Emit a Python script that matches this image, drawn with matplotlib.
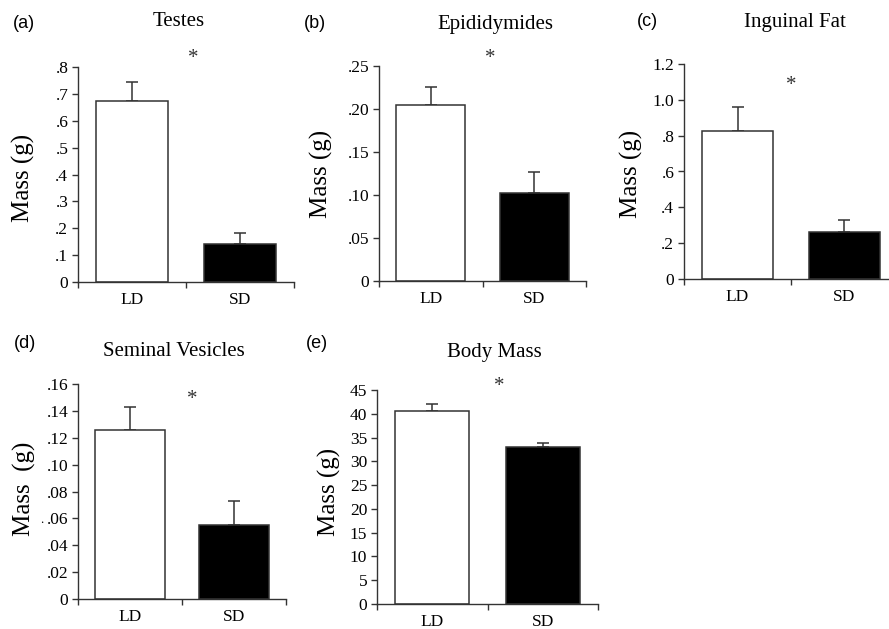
import matplotlib
matplotlib.use("Agg")
import matplotlib.pyplot as plt

categories = ["LD", "SD"]

testes_mean = [0.675, 0.142]
testes_err = [0.069, 0.039]
testes_ticks = [0, 0.1, 0.2, 0.3, 0.4, 0.5, 0.6, 0.7, 0.8]
testes_ticklabels = ["0", ".1", ".2", ".3", ".4", ".5", ".6", ".7", ".8"]

epid_mean = [0.205, 0.102]
epid_err = [0.021, 0.025]
epid_ticks = [0, 0.05, 0.10, 0.15, 0.20, 0.25]
epid_ticklabels = ["0", ".05", ".10", ".15", ".20", ".25"]

fat_mean = [0.828, 0.262]
fat_err = [0.130, 0.069]
fat_ticks = [0, 0.2, 0.4, 0.6, 0.8, 1.0, 1.2]
fat_ticklabels = ["0", ".2", ".4", ".6", ".8", "1.0", "1.2"]

sv_mean = [0.1258, 0.0551]
sv_err = [0.0171, 0.0178]
sv_ticks = [0, 0.02, 0.04, 0.06, 0.08, 0.10, 0.12, 0.14, 0.16]
sv_ticklabels = ["0", ".02", ".04", ".06", ".08", ".10", ".12", ".14", ".16"]

body_mean = [40.5, 33.0]
body_err = [1.6, 0.8]
body_ticks = [0, 5, 10, 15, 20, 25, 30, 35, 40, 45]
body_ticklabels = ["0", "5", "10", "15", "20", "25", "30", "35", "40", "45"]

W, H = 889, 629
fig = plt.figure(figsize=(W / 100, H / 100), dpi=100)

SERIF = "Liberation Serif"
SANS = "Liberation Sans"
EDGE = "#333333"


def px_axes(L, R, T, B):
    return fig.add_axes([L / W, 1 - B / H, (R - L) / W, (B - T) / H])


def ftext(x, y, s, **kw):
    fig.text(x / W, 1 - y / H, s, **kw)


panels = [
    dict(box=(78, 294, 67, 282), mean=testes_mean, err=testes_err, ticks=testes_ticks,
         tl=testes_ticklabels, title="Testes", tpos=(179, 22), letter="(a)", lpos=(24, 23),
         ylab="Mass (g)", ypos=(23, 178), star=(193, 55)),
    dict(box=(379, 586, 66, 281), mean=epid_mean, err=epid_err, ticks=epid_ticks,
         tl=epid_ticklabels, title="Epididymides", tpos=(495, 24), letter="(b)", lpos=(315, 23),
         ylab="Mass (g)", ypos=(321, 174), star=(490, 55)),
    dict(box=(684, 898, 64, 279), mean=fat_mean, err=fat_err, ticks=fat_ticks,
         tl=fat_ticklabels, title="Inguinal Fat", tpos=(795, 23), letter="(c)", lpos=(647, 22),
         ylab="Mass (g)", ypos=(631, 174), star=(791, 82)),
    dict(box=(78, 286, 384, 599), mean=sv_mean, err=sv_err, ticks=sv_ticks,
         tl=sv_ticklabels, title="Seminal Vesicles", tpos=(174, 351), letter="(d)", lpos=(25, 344),
         ylab="Mass  (g)", ypos=(24, 489), star=(192, 396)),
    dict(box=(377, 598, 390, 604), mean=body_mean, err=body_err, ticks=body_ticks,
         tl=body_ticklabels, title="Body Mass", tpos=(494, 352), letter="(e)", lpos=(317, 343),
         ylab="Mass (g)", ypos=(329, 492), star=(499, 383)),
]

for p in panels:
    ax = px_axes(*p["box"])
    xs = [0.5, 1.5]
    ax.bar(xs, p["mean"], width=0.67, color=["white", "black"], edgecolor=EDGE,
           linewidth=1.1, zorder=2)
    ax.errorbar(xs, p["mean"], yerr=[[0, 0], p["err"]], fmt="none", ecolor=EDGE,
                elinewidth=1.1, capsize=4.5, capthick=1.1, zorder=1)
    ax.set_xlim(0, 2)
    ax.set_ylim(p["ticks"][0], p["ticks"][-1])
    ax.set_yticks(p["ticks"])
    ax.set_yticklabels(p["tl"], fontfamily=SERIF, fontsize=12.5)
    ax.set_xticks([0, 1, 2])
    ax.set_xticklabels([])
    ax.set_xticks(xs, minor=True)
    ax.set_xticklabels(categories, minor=True, fontfamily=SERIF, fontsize=12.5)
    ax.tick_params(axis="x", which="minor", length=0, pad=7)
    ax.tick_params(axis="x", which="major", length=4, width=1, color=EDGE, direction="out")
    ax.tick_params(axis="y", length=4, width=1, color=EDGE, direction="out", pad=3)
    for s in ("top", "right"):
        ax.spines[s].set_visible(False)
    for s in ("left", "bottom"):
        ax.spines[s].set_color(EDGE)
        ax.spines[s].set_linewidth(1.0)
    ax.patch.set_alpha(0)

    ftext(*p["tpos"], p["title"], fontfamily=SERIF, fontsize=15, ha="center", va="center")
    ftext(*p["lpos"], p["letter"], fontfamily=SANS, fontsize=13, ha="center", va="center")
    ftext(*p["ypos"], p["ylab"], fontfamily=SERIF, fontsize=18, rotation=90,
          ha="center", va="center")
    sx, sy = p["star"]
    ftext(sx, sy + 8, "*", fontfamily=SERIF, fontsize=15, ha="center", va="baseline",
          color="#333333")

# small stray dot near panel (d) y label
ftext(42, 520, ".", fontfamily=SERIF, fontsize=9, ha="center", va="center")

fig.savefig("out.png", dpi=100)
